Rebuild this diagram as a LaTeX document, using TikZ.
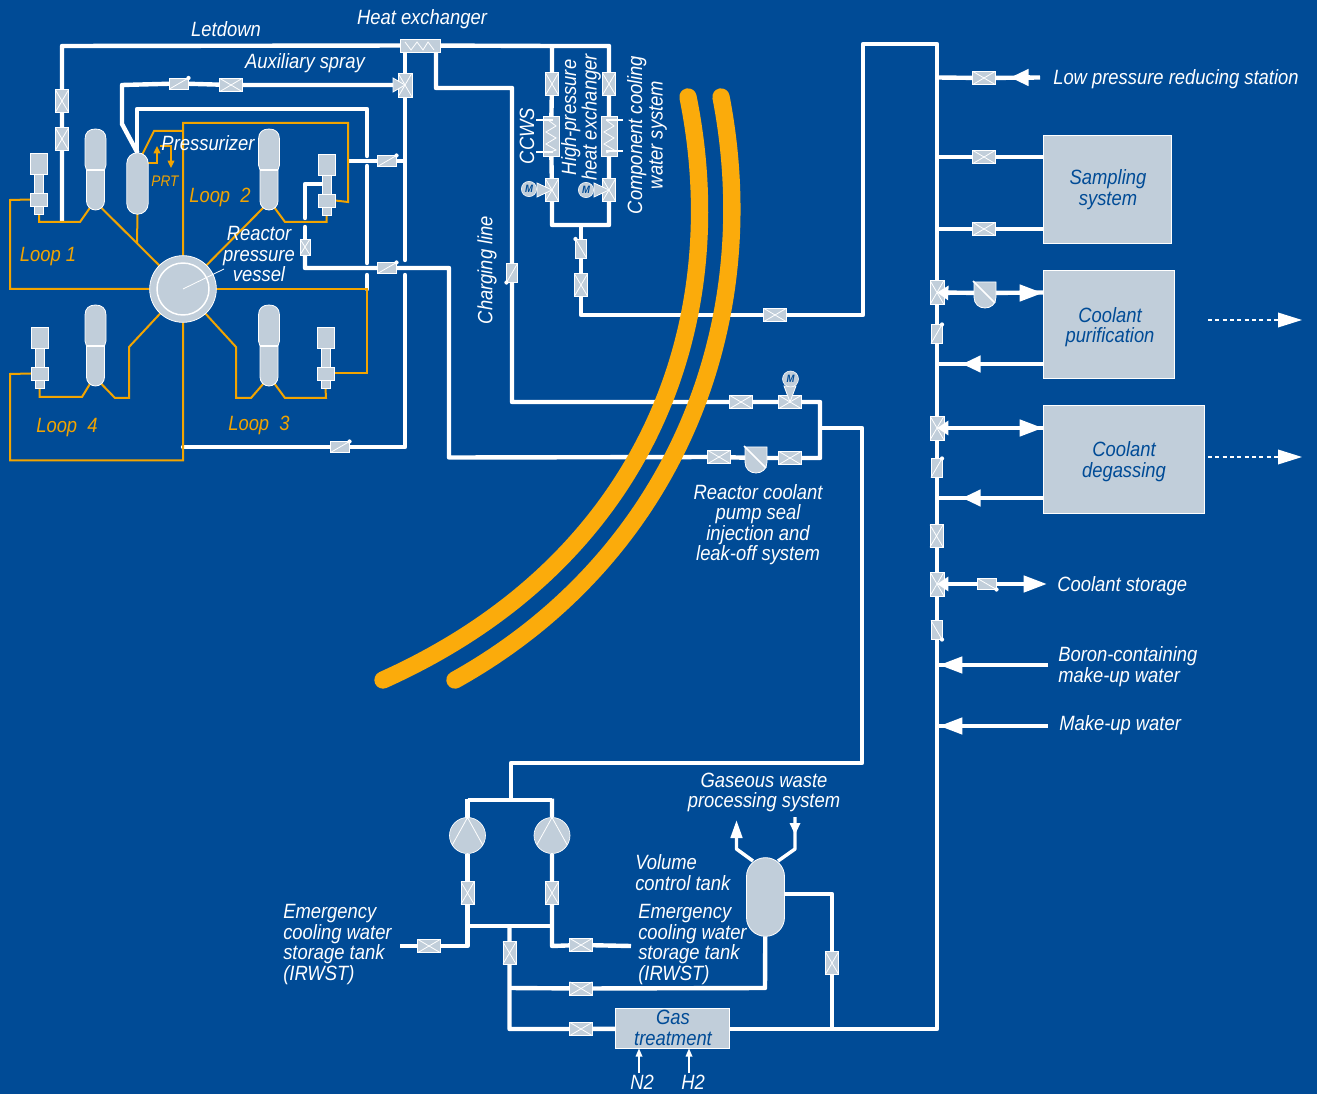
\documentclass[tikz,border=0pt]{standalone}
\usepackage{fontspec}
\setmainfont{Liberation Sans}[FakeStretch=0.89]
\usetikzlibrary{arrows.meta}
\definecolor{bgc}{HTML}{004B96}
\definecolor{gr}{HTML}{C1CEDA}
\definecolor{orgc}{HTML}{F2A400}
\definecolor{ylw}{HTML}{FBAB0B}
\pgfdeclarelayer{bglayer}\pgfdeclarelayer{pipes}
\pgfsetlayers{bglayer,pipes,main}
\tikzset{
 pipe/.style={white,line width=3.3pt,line join=round},
 gapped/.style={pipe,line cap=round},
 thw/.style={white,line width=.6pt},
 org/.style={orgc,line width=1.5pt,line join=miter},
 arc/.style={ylw,line width=13pt,line cap=round},
 gshape/.style={fill=gr,draw=white,line width=.6pt},
 vb/.style={rectangle,fill=gr,draw=white,line width=.4pt,inner sep=0,outer sep=0},
 xb/.style={vb,path picture={\draw[thw] (path picture bounding box.north west)--(path picture bounding box.south east) (path picture bounding box.north east)--(path picture bounding box.south west);}},
 xh/.style={xb,minimum width=17pt,minimum height=10pt},
 xv/.style={xb,minimum width=10pt,minimum height=17pt},
 tw/.style={xb,minimum width=10.5pt,minimum height=18pt},
 hxb/.style={vb},
 bx/.style={vb,line width=.6pt},
 pumpc/.style={circle,fill=gr,draw=white,line width=.5pt,minimum size=27pt,inner sep=0,outer sep=0},
 motor/.style={circle,fill=gr,draw=white,line width=.4pt,minimum size=11.5pt,inner sep=0,text=bgc,font=\fontsize{8}{8}\selectfont\itshape\bfseries},
 lab/.style={white,font=\lf,inner sep=0,align=center,yshift=-1.5pt},
 blab/.style={lab,text=bgc},
 rlab/.style={white,font=\lf,inner sep=0,align=center,rotate=90},
 labl/.style={lab,align=left,anchor=west},
 olab/.style={orgc,font=\lf,inner sep=0,yshift=-1.5pt},
 bigl/.style={pipe,-{Triangle[length=17.5pt,width=12pt]}},
 midl/.style={pipe,-{Triangle[length=14pt,width=12pt]}},
 smalll/.style={pipe,-{Triangle[length=8.5pt,width=10.5pt]}},
 thinarr/.style={white,line width=.9pt,-{Triangle[length=6pt,width=5pt]}},
 oarr/.style={orgc,line width=1pt,-{Triangle[length=5.5pt,width=5pt]}},
}
\newcommand{\lf}{\fontsize{15.5}{15.4}\selectfont\itshape}
\newcommand{\chk}[6]{\node[vb,minimum width=#3*.75pt,minimum height=#4*.75pt] (#1) at (#2) {};
  \draw[thw] (#1.#5)--(#1.#6); \fill[white] (#1.#6) circle[radius=1.6pt];}
\newcommand{\sg}[3]{\begin{scope}[shift={(#2,#3)}]\coordinate (#1l) at (-5,78);\coordinate (#1r) at (5,78);
  \draw[gshape] (-9,41)--(-10.5,36)--(-10.5,10) .. controls (-10.5,3) and (-6,0) .. (0,0) .. controls (6,0) and (10.5,3) .. (10.5,10)--(10.5,36)--(9,41)--(9,72) .. controls (9,77) and (5,81) .. (0,81) .. controls (-5,81) and (-9,77) .. (-9,72)--cycle;
  \draw[white,line width=1pt] (-9,41)--(9,41);\end{scope}}
\newcommand{\rcp}[3]{\begin{scope}[shift={(#2,#3)}]
  \node[vb,minimum width=7pt,minimum height=30pt] (#1s) at (0,30) {};
  \node[vb,minimum width=13pt,minimum height=16pt] (#1m) at (0,10.5) {};
  \node[vb,minimum width=6.5pt,minimum height=8pt] (#1f) at (0,56) {};
  \node[vb,minimum width=13pt,minimum height=9.5pt] (#1b) at (0,46.5) {};
  \end{scope}}
\newcommand{\shld}[2]{\begin{scope}[shift={(#2)}]\coordinate (#1) at (0,0);
  \draw[gshape] (-11,-11)--(11,-11)--(11,4) .. controls (11,11) and (6,15) .. (0,15) .. controls (-6,15) and (-11,11) .. (-11,4)--cycle;
  \draw[white,line width=1.1pt] (-12,-12)--(10,10);\end{scope}}
\begin{document}
\begin{tikzpicture}[x=0.75pt,y=-0.75pt]
\useasboundingbox (0,0) rectangle (1317,1094);
\begin{pgfonlayer}{bglayer}\fill[bgc] (0,0) rectangle (1317,1094);\end{pgfonlayer}

% ---------- equipment: loops
\sg{sgA}{95.5}{129}\sg{sgB}{269}{129}\sg{sgC}{269}{305}\sg{sgD}{95.5}{305}
\rcp{pA}{39}{153}\rcp{pB}{326.5}{154}\rcp{pC}{325.5}{327}\rcp{pD}{39.5}{327}
\node[gshape,rectangle,rounded corners=7.8pt,minimum width=16pt,minimum height=46pt,inner sep=0,outer sep=0] (przr) at (137.5,183.5) {};
\node[circle,fill=gr,draw=white,line width=.6pt,minimum size=50pt,inner sep=0,outer sep=0] (rpv) at (183,289) {};
\node[circle,draw=white,line width=1.1pt,minimum size=39pt,inner sep=0] (rpvin) at (183,289) {};
\coordinate (rpvlead) at (224,269);
\draw[thw] (rpv.center)--(rpvlead);

% ---------- valves, upper left
\node[xv] (vLa) at (62,101) {};\node[xv] (vLb) at (62,139) {};
\chk{vSa}{179,83.5}{19}{11}{south west}{north east}
\node[xh] (vSb) at (231,85) {};
\node[tw] (vSc) at (405,85) {};
\draw[gshape] (393,78)--(405,85)--(393,92)--cycle;
\chk{vDa}{387,161}{19}{11}{south west}{north east}
\chk{vDb}{387,268}{19}{11}{south west}{north east}
\chk{vDc}{340,447}{19}{11}{south west}{north east}
\node[xb,minimum width=7.5pt,minimum height=12pt] (vPs) at (305,247) {};
% ---------- heat exchangers
\node[hxb,minimum width=30pt,minimum height=10pt] (hxA) at (420,45.5) {};
\draw[thw] (405,42)--(411,50)--(417,42)--(423,50)--(428,42)--(434,50);
\node[xv] (vCa) at (552,84) {};\node[xv] (vCb) at (609,84) {};
\node[hxb,minimum width=12pt,minimum height=30pt] (hxL) at (551,136) {};
\node[hxb,minimum width=12pt,minimum height=30pt] (hxR) at (609,136) {};
\draw[thw] (548,120)--(556,126)--(546,132)--(556,138)--(546,144)--(556,150)--(548,153);
\draw[thw] (606,120)--(614,126)--(604,132)--(614,138)--(604,144)--(614,150)--(606,153);
\coordinate (stA) at (536,120);\coordinate (stB) at (536,152);\coordinate (stC) at (623,120);\coordinate (stD) at (623,151);
\draw[thw,line width=.8pt] (stA)--(553,120) (stB)--(553,152) (stC)--(606,120) (stD)--(606,151);
\node[xv] (vCc) at (552,190) {};\node[xv] (vCd) at (609,190) {};
\draw[gshape] (537,183)--(552,190)--(537,197)--cycle;
\draw[gshape] (594,183)--(609,190)--(594,197)--cycle;
\node[motor] (mA) at (529,189) {M};\node[motor] (mB) at (586,190) {M};
\chk{vEa}{581,248.5}{11}{19}{south east}{north west}
\node[xv] (vEb) at (581,285) {};
\node[xh] (vEc) at (775,315) {};
\chk{vChg}{512,273}{11}{19}{north east}{south west}
% ---------- seal injection
\node[xh] (vFa) at (741,402) {};\node[xh] (vFb) at (790,402) {};
\draw[gshape] (784,386)--(790,402)--(796,386)--cycle;
\node[motor,minimum size=12pt] (mC) at (790.5,379) {M};
\node[xh] (vGa) at (719,457) {};\shld{shA}{756,458}\node[xh] (vGb) at (790,458) {};
% ---------- right column
\node[xh] (vRa) at (984,78) {};\node[xh] (vRb) at (984,157) {};\node[xh] (vRc) at (984,229) {};
\node[tw] (vTa) at (937,292.5) {};\shld{shB}{985,293}
\chk{vTb}{936.5,334}{11}{19}{south west}{north east}
\node[tw] (vTc) at (937,428) {};
\chk{vTd}{936.5,468}{11}{19}{south west}{north east}
\node[xv] (vTe) at (936.5,536) {};
\node[tw] (vTf) at (937,584) {};
\chk{vTg}{987,584}{19}{11}{north west}{south east}
\chk{vTh}{936.5,630}{11}{19}{north west}{south east}
\node[bx,minimum width=96pt,minimum height=81.5pt] (samp) at (1107,189.5) {};
\node[bx,minimum width=98.2pt,minimum height=81.5pt] (purif) at (1108.5,324.5) {};
\node[bx,minimum width=120.7pt,minimum height=81.5pt] (degas) at (1123.5,459.5) {};
% ---------- bottom
\node[pumpc] (pmL) at (467.5,835.5) {};\node[pumpc] (pmR) at (552,835.5) {};
\draw[thw] (pmL.north)--(pmL.212) (pmL.north)--(pmL.328) (pmR.north)--(pmR.212) (pmR.north)--(pmR.328);
\node[xv] (vBa) at (467.5,893) {};\node[xv] (vBb) at (552,893) {};
\node[xh] (vBc) at (429,946) {};\node[xh] (vBd) at (581,945) {};
\node[xv] (vBe) at (509.5,953) {};\node[xh] (vBf) at (581,988.5) {};\node[xh] (vBg) at (581,1029) {};
\node[xv] (vBh) at (832,963) {};
\node[gshape,rectangle,rounded corners=14.2pt,minimum width=28.5pt,minimum height=59pt,inner sep=0,outer sep=0] (vct) at (765.5,897) {};
\node[bx,minimum width=85pt,minimum height=30pt] (gast) at (672.5,1028.5) {};

% ---------- junctions and free ends
\coordinate (topT) at (552,46);\coordinate (botT) at (581,225);
\coordinate (mainTop) at (937,44);\coordinate (mainBot) at (937,1029);
\coordinate (hxO) at (405,46);\coordinate (hxC) at (436,46);
\coordinate (sealT) at (820,428);\coordinate (pumpT) at (511,800);
\coordinate (crossT) at (509.5,926);\coordinate (vctT) at (509.5,988);\coordinate (gasT) at (832,1029);
\coordinate (irwL) at (400,946);\coordinate (irwR) at (631,946);
\coordinate (vctUL) at (753,861);\coordinate (vctUR) at (778,861);

\begin{pgfonlayer}{pipes}
% letdown
\draw[pipe] (62,222)--(vLb)--(vLa)--(62,46)--(hxA);
\draw[pipe] (hxA)--(topT)--(609,46)--(vCb)--(hxR)--(vCd)--(609,225)--(botT)--(552,225)--(vCc)--(hxL)--(vCa)--(topT);
\draw[pipe] (botT)--(vEa)--(vEb)--(581,315)--(vEc)--(863,315)--(863,44)--(mainTop)--(mainBot)--(gast.east |- mainBot);
% charging
\draw[pipe] (hxC)--(436,88)--(512,88)--(vChg)--(512,402)--(vFa)--(vFb)--(820,402)--(820,458)--(vGb)--(shA)--(vGa)--(449,457.5)--(449,268)--(vDb)--(305,268)--(vPs);
\draw[gapped] (vPs)--(305,227);
\draw[gapped] (305,218)--(305,184)--(pBs.west |- 0,184);
\draw[pipe] (sealT)--(862,428)--(862,763)--(511,763)--(pumpT);
% aux spray and other
\draw[pipe] (vSc)--(vSb)--(vSa)--(122,85)--(122,124)--(przr.north);
\draw[gapped] (hxO)--(405,260);
\draw[gapped] (405,275)--(405,447)--(vDc)--(183,447);
\draw[gapped] (137,160)--(137,109)--(367,109)--(367,156);
\draw[gapped] (367,166)--(367,263);
\draw[gapped] (367,275)--(367,289);
\draw[pipe] (348,161)--(vDa)--(405,161);
% right branches
\draw[pipe] (937,77.5)--(vRa)--(1040,77.5);
\draw[pipe] (937,157)--(vRb)--(samp.west |- vRb);
\draw[pipe] (937,229)--(vRc)--(samp.west |- vRc);
\draw[pipe] (vTa)--(shB)--(purif.west |- vTa);
\draw[pipe] (937,364)--(purif.west |- 0,364);
\draw[pipe] (vTc)--(degas.west |- vTc);
\draw[pipe] (937,498)--(degas.west |- 0,498);
\draw[pipe] (vTf)--(vTg)--(1030,584);
\draw[pipe] (939,665)--(1048,665);
\draw[pipe] (939,726)--(1048,726);
% bottom
\draw[pipe] (467.5,800)--(552,800);
\draw[pipe] (467.5,798.5)--(pmL)--(vBa)--(467.5,946)--(vBc)--(irwL);
\draw[pipe] (552,798.5)--(pmR)--(vBb)--(552,946)--(vBd)--(irwR);
\draw[pipe] (465,926)--(552,926);
\draw[pipe] (crossT)--(vBe)--(509.5,1029)--(vBg)--(gast);
\draw[pipe] (vctT)--(vBf)--(765,988)--(vct);
\draw[pipe] (vct.east |- 0,894)--(832,894)--(vBh)--(gasT);
% thin orange primary loop
\draw[org] (pAb.west)--(10,200)--(10,289)--(rpv);
\draw[org] (pAf.south)--(39,222)--(80,222)--(sgAl);
\draw[org] (sgAr)--(rpv);
\draw[org] (przr.south)--(137,243);
\draw[org] (rpv)--(183,123)--(348,123)--(348,202)--(pBb.east);
\draw[org] (pBf.south)--(326.5,222)--(285,222)--(sgBr);
\draw[org] (sgBl)--(rpv);
\draw[org] (142,155)--(154,131)--(183,131);
\draw[org] (rpv)--(367,289)--(367,373.5)--(pCb.east);
\draw[org] (rpv)--(236,347)--(236,398)--(251,398)--(sgCl);
\draw[org] (sgCr)--(285,398)--(326,398)--(pCf.south);
\draw[org] (rpv)--(183,460.5)--(10,460.5)--(10,374)--(pDb.west);
\draw[org] (pDf.south)--(39.5,397)--(82,397)--(sgDl);
\draw[org] (sgDr)--(115,398)--(129,398)--(129,347)--(rpv);
\draw[org,line width=1pt] (przr.east |- 0,163)--(157,163)--(157,156);
\draw[oarr] (157,156)--(157,146);
\draw[oarr] (160,146)--(171,146)--(171,168);
\end{pgfonlayer}

% thick arcs
\draw[arc] (688,97) .. controls (733,320) and (650,560) .. (383,680);
\draw[arc] (721,97) .. controls (766,330) and (670,560) .. (455,680);

% big arrows
\coordinate (tLow) at (1010,77.5);
\draw[midl] (1030,77.5)--(tLow);
\draw[smalll] (950,293)--(vTa.center);\draw[bigl] (1012,293)--(purif.west |- 0,293);
\coordinate (tPur) at (962,364);\draw[midl] (985,364)--(tPur);
\draw[smalll] (950,428)--(vTc.center);\draw[bigl] (1012,428)--(degas.west |- 0,428);
\coordinate (tDeg) at (962,498);\draw[midl] (985,498)--(tDeg);
\draw[smalll] (950,584)--(vTf.center);
\coordinate (tSto) at (1047,584);\draw[bigl] (1015,584)--(tSto);
\coordinate (tBor) at (939,665);\draw[bigl] (968,665)--(tBor);
\coordinate (tMak) at (939,726);\draw[bigl] (968,726)--(tMak);
\coordinate (dA) at (1208,320);\coordinate (dAe) at (1302,320);
\coordinate (dB) at (1208,457);\coordinate (dBe) at (1302,457);
\draw[white,line width=1.2pt,dash pattern=on 3pt off 2.5pt] (dA)--(1280,320);\draw[white,line width=1pt,-{Triangle[length=18pt,width=11pt]}] (1278,320)--(dAe);
\draw[white,line width=1.2pt,dash pattern=on 3pt off 2.5pt] (dB)--(1280,457);\draw[white,line width=1pt,-{Triangle[length=18pt,width=11pt]}] (1278,457)--(dBe);
\coordinate (gwU) at (736.5,820);\coordinate (gwD) at (795,835);
\draw[pipe,line width=2.6pt] (vctUL)--(736.5,849)--(736.5,838);
\draw[pipe,line width=2.6pt,-{Triangle[length=13.5pt,width=8.5pt]}] (736.5,842)--(gwU);
\draw[pipe,line width=2.6pt] (vctUR)--(795,849)--(795,817);
\draw[pipe,line width=2.6pt,-{Triangle[length=9pt,width=7.5pt]}] (795,823)--(gwD);
\coordinate (nA) at (639,1073);\coordinate (nB) at (689,1073);
\draw[thinarr] (nA)--(gast.south -| nA);
\draw[thinarr] (nB)--(gast.south -| nB);

% labels
\node[lab] (tLet) at (226,27.5) {Letdown};
\node[lab] (tHex) at (422,17) {Heat exchanger};
\node[lab] (tAux) at (305,61) {Auxiliary spray};
\node[lab] (tPrz) at (208,141) {Pressurizer};
\node[olab,font=\fontsize{11.5}{12}\selectfont\itshape,yshift=1.5pt] (tPrt) at (165,181) {PRT};
\node[olab] (tLa) at (48,255) {Loop 1};
\node[olab] (tLb) at (220,195) {Loop\ \ 2};
\node[olab] (tLc) at (259,423) {Loop\ \ 3};
\node[olab] (tLd) at (67,426) {Loop\ \ 4};
\node[lab] (tRpv) at (259,252) {Reactor\\pressure\\vessel};
\node[rlab] (tCcw) at (527,136) {CCWS};
\node[rlab] (tHpx) at (581,117.5) {High-pressure\\heat exchanger};
\node[rlab] (tCom) at (647,135) {Component cooling\\water system};
\node[rlab] (tChg) at (487,270) {Charging line};
\node[labl] (tLow2) at (1053,77) {Low pressure reducing station};
\node[blab] (tSamp) at (1108,187.5) {Sampling\\system};
\node[blab] (tPur2) at (1110,325) {Coolant\\purification};
\node[blab] (tDeg2) at (1124,459.5) {Coolant\\degassing};
\node[blab] (tGast) at (673,1026) {Gas\\treatment};
\node[lab] (tSeal) at (758,522.5) {Reactor coolant\\pump seal\\injection and\\leak-off system};
\node[labl] (tSto2) at (1057,584) {Coolant storage};
\node[labl] (tBor2) at (1058,664.5) {Boron-containing\\make-up water};
\node[labl] (tMak2) at (1059,723) {Make-up water};
\node[lab] (tGas) at (764,790.5) {Gaseous waste\\processing system};
\node[labl] (tVol) at (635,870.5) {Volume\\control tank};
\node[labl] (tEmR) at (638,942.5) {Emergency\\cooling water\\storage tank\\(IRWST)};
\node[labl] (tEmL) at (283,942.5) {Emergency\\cooling water\\storage tank\\(IRWST)};
\node[lab] (tN) at (642,1080) {N2};
\node[lab] (tH) at (693,1080) {H2};
\end{tikzpicture}
\end{document}
